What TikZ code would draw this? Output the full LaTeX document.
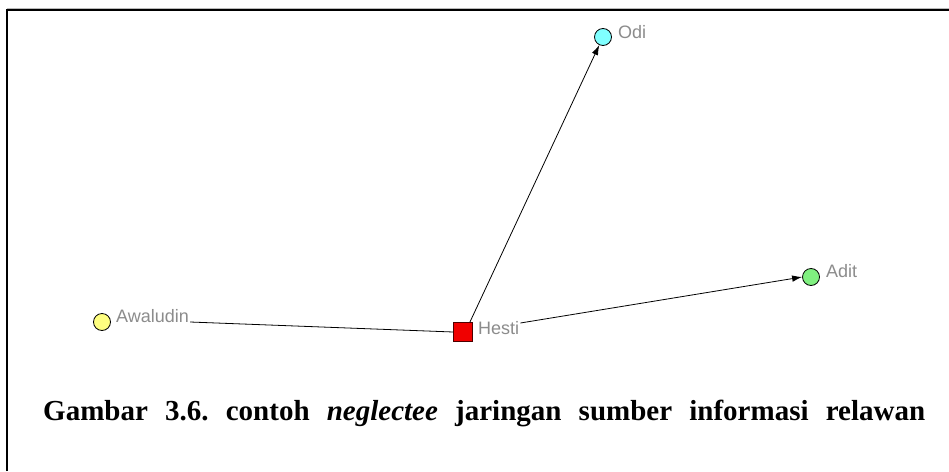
\documentclass[tikz,border=0pt]{standalone}
\usepackage{fontspec}
\setmainfont{Liberation Serif}
\newfontfamily\lblfont{Liberation Sans}
\usetikzlibrary{arrows.meta}
\definecolor{lblgray}{RGB}{140,140,140}
\definecolor{ndyellow}{RGB}{255,255,128}
\definecolor{ndcyan}{RGB}{128,255,255}
\definecolor{ndgreen}{RGB}{128,240,128}
\definecolor{ndred}{RGB}{240,0,0}
\begin{document}
\begin{tikzpicture}[x=1pt,y=-1pt,
  actor/.style={circle,draw=black,line width=0.8pt,minimum size=17pt,inner sep=0pt},
  ego/.style={rectangle,draw=black!70!red,line width=0.8pt,fill=ndred,minimum size=19pt,inner sep=0pt},
  lbl/.style={font=\lblfont\fontsize{18}{18}\selectfont,text=lblgray,inner sep=0pt,anchor=base west},
  tie/.style={draw=black,line width=0.8pt},
  arr/.style={tie,-{Latex[length=10pt,width=6.5pt]}}]
\useasboundingbox (0,0) rectangle (949,471);
\fill[white] (0,0) rectangle (949,471);
% frame
\draw[line width=2pt] (7,471) -- (7,10) -- (949,10);
\draw[lblgray!60,line width=1pt] (7,8) -- (949,8);
% nodes
\node[actor,fill=ndyellow] (awal) at (102,322) {};
\node[lbl] (awallbl) at (116,322) {Awaludin};
\node[ego] (hesti) at (463,332) {};
\node[lbl] (hestilbl) at (478,334) {Hesti};
\node[actor,fill=ndcyan] (odi) at (603,37) {};
\node[lbl] (odilbl) at (618,38) {Odi};
\node[actor,fill=ndgreen] (adit) at (811,277) {};
\node[lbl] (aditlbl) at (826,277) {Adit};
% ties
\coordinate (astart) at ([xshift=1pt]awallbl.base east);
\draw[tie] (astart) -- (hesti.west);
\coordinate (ostart) at ([xshift=-3pt]hesti.north east);
\draw[arr] (ostart) -- (odi);
\coordinate (dstart) at ([xshift=1pt,yshift=11pt]hestilbl.base east);
\draw[arr] (dstart) -- (adit.west);
% caption
\node[font=\bfseries\fontsize{29}{32}\selectfont,anchor=base west,inner sep=0pt] (cap) at (43,420)
  {\frenchspacing\makebox[882pt][s]{Gambar 3.6. contoh \textit{neglectee} jaringan sumber informasi relawan}};
\end{tikzpicture}
\end{document}
